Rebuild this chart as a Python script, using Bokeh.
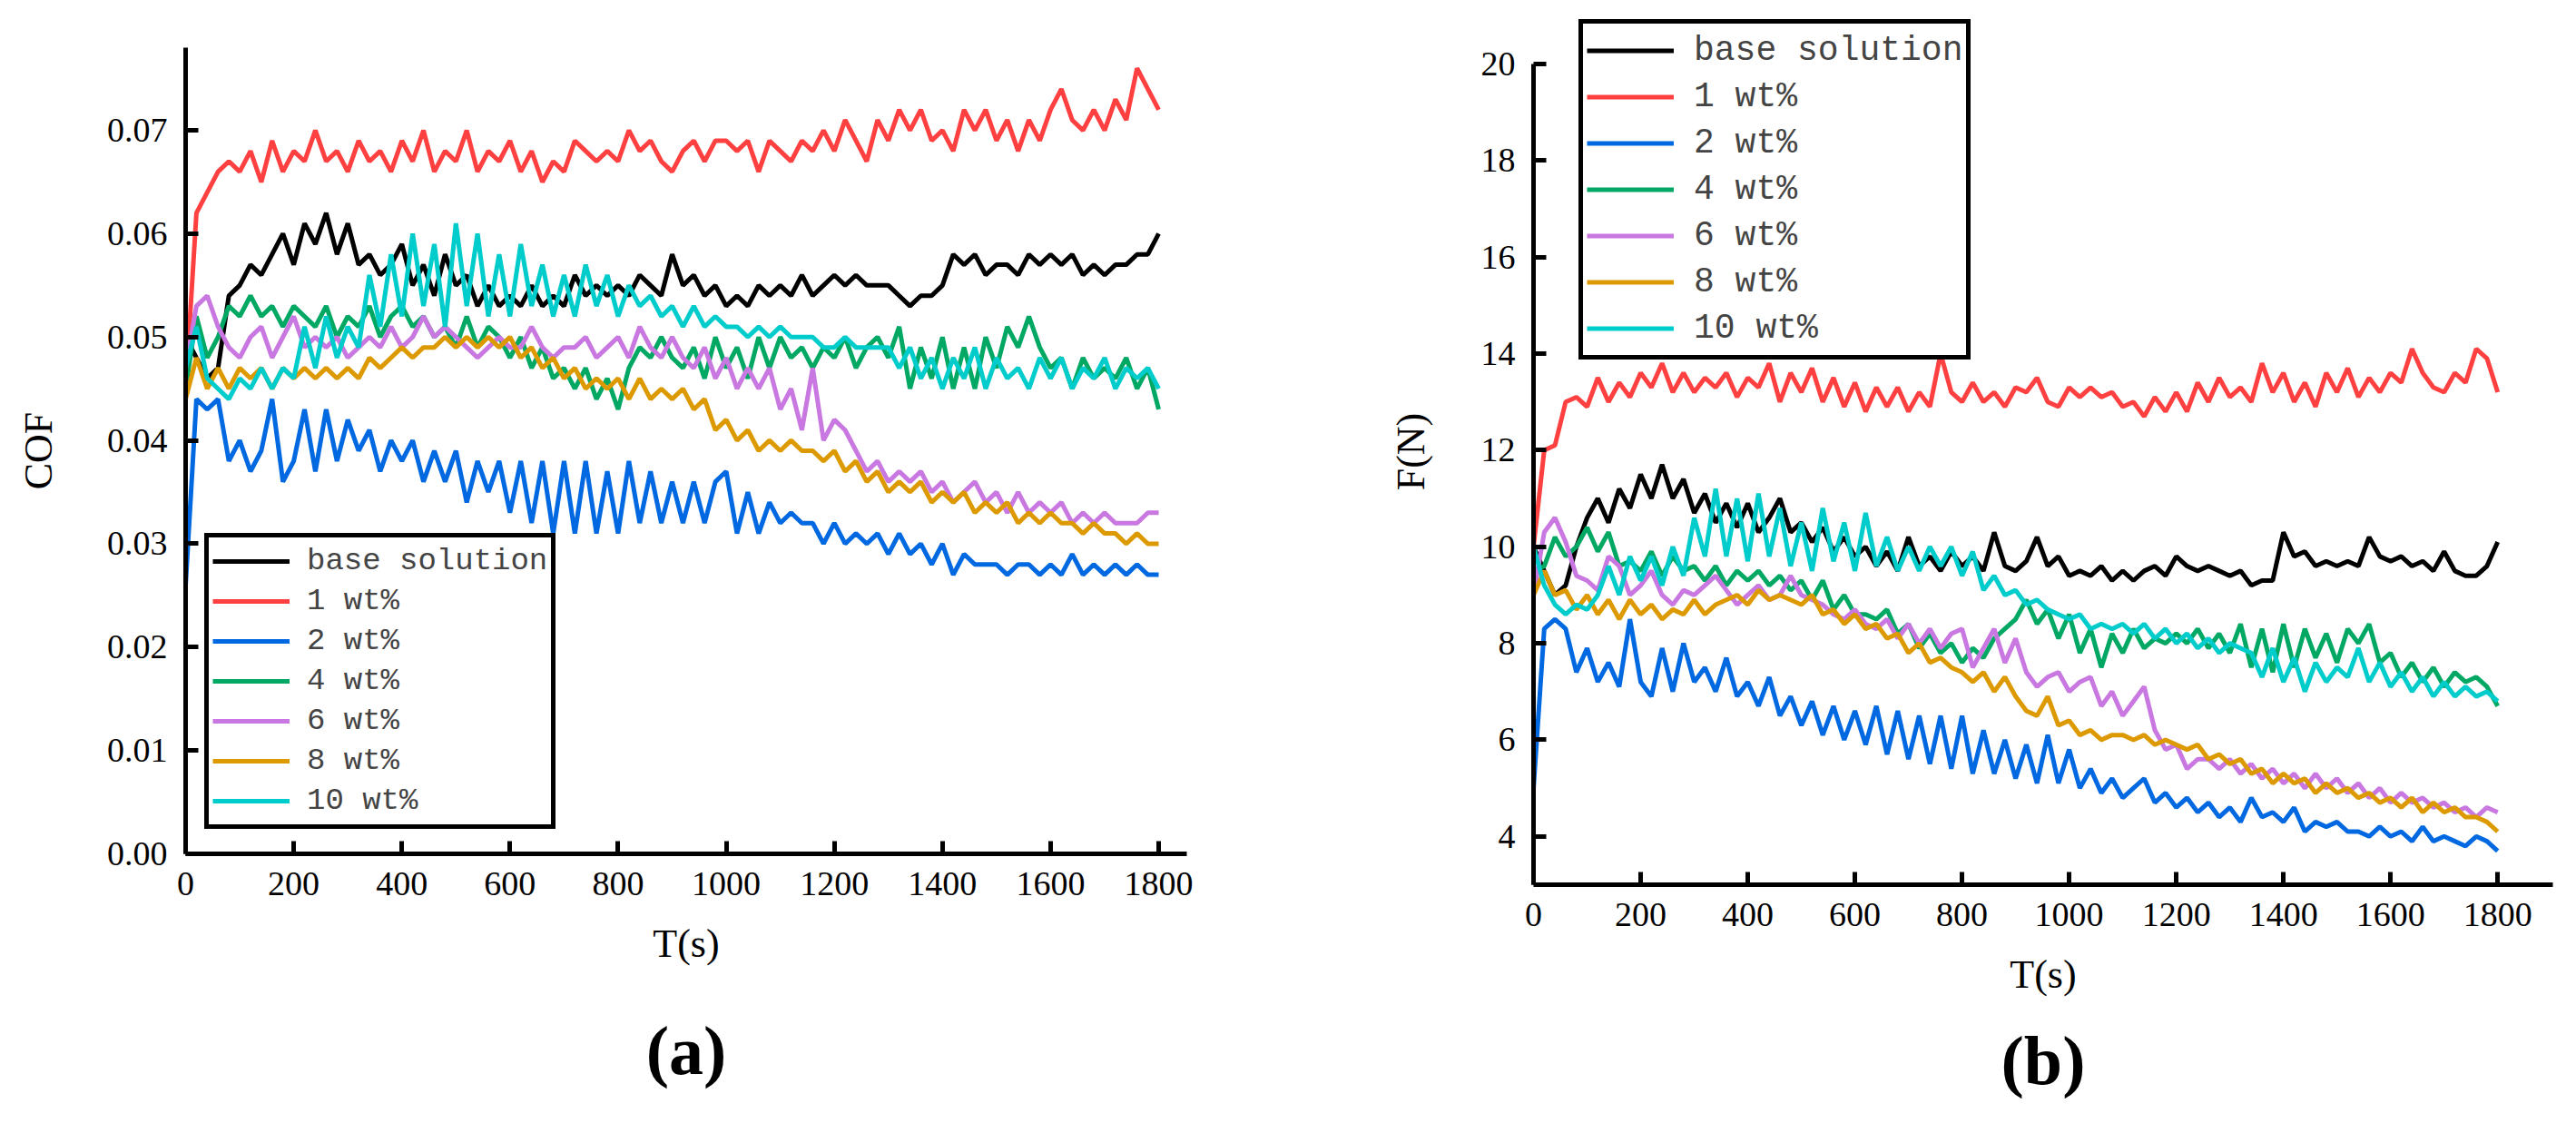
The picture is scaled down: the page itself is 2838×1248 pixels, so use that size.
from bokeh.plotting import figure
from bokeh.layouts import row, column
from bokeh.models import Range1d, FixedTicker, Title, PrintfTickFormatter
from bokeh.embed import file_html
from bokeh.resources import INLINE

# sampling times (s)
time_s = list(range(0, 1801, 20))

series_names = ["base solution", "1 wt%", "2 wt%", "4 wt%", "6 wt%", "8 wt%", "10 wt%"]
series_colors = ["#000000", "#ff4040", "#0068e0", "#00a864", "#c878e0", "#dc9a00", "#00cccc"]

# ---- panel (a): coefficient of friction ----
cof_base = [0.050, 0.048, 0.046, 0.047, 0.054, 0.055, 0.057, 0.056, 0.058, 0.060,
            0.057, 0.061, 0.059, 0.062, 0.058, 0.061, 0.057, 0.058, 0.056, 0.057,
            0.059, 0.055, 0.057, 0.054, 0.058, 0.055, 0.056, 0.053, 0.055, 0.053,
            0.054, 0.053, 0.055, 0.053, 0.054, 0.053, 0.056, 0.054, 0.055, 0.054,
            0.055, 0.054, 0.056, 0.055, 0.054, 0.058, 0.055, 0.056, 0.054, 0.055,
            0.053, 0.054, 0.053, 0.055, 0.054, 0.055, 0.054, 0.056, 0.054, 0.055,
            0.056, 0.055, 0.056, 0.055, 0.055, 0.055, 0.054, 0.053, 0.054, 0.054,
            0.055, 0.058, 0.057, 0.058, 0.056, 0.057, 0.057, 0.056, 0.058, 0.057,
            0.058, 0.057, 0.058, 0.056, 0.057, 0.056, 0.057, 0.057, 0.058, 0.058,
            0.060]
cof_1wt = [0.045, 0.062, 0.064, 0.066, 0.067, 0.066, 0.068, 0.065, 0.069, 0.066,
           0.068, 0.067, 0.070, 0.067, 0.068, 0.066, 0.069, 0.067, 0.068, 0.066,
           0.069, 0.067, 0.070, 0.066, 0.068, 0.067, 0.070, 0.066, 0.068, 0.067,
           0.069, 0.066, 0.068, 0.065, 0.067, 0.066, 0.069, 0.068, 0.067, 0.068,
           0.067, 0.070, 0.068, 0.069, 0.067, 0.066, 0.068, 0.069, 0.067, 0.069,
           0.069, 0.068, 0.069, 0.066, 0.069, 0.068, 0.067, 0.069, 0.068, 0.070,
           0.068, 0.071, 0.069, 0.067, 0.071, 0.069, 0.072, 0.070, 0.072, 0.069,
           0.070, 0.068, 0.072, 0.070, 0.072, 0.069, 0.071, 0.068, 0.071, 0.069,
           0.072, 0.074, 0.071, 0.070, 0.072, 0.070, 0.073, 0.071, 0.076, 0.074,
           0.072]
cof_2wt = [0.026, 0.044, 0.043, 0.044, 0.038, 0.040, 0.037, 0.039, 0.044, 0.036,
           0.038, 0.043, 0.037, 0.043, 0.038, 0.042, 0.039, 0.041, 0.037, 0.040,
           0.038, 0.040, 0.036, 0.039, 0.036, 0.039, 0.034, 0.038, 0.035, 0.038,
           0.033, 0.038, 0.032, 0.038, 0.031, 0.038, 0.031, 0.038, 0.031, 0.037,
           0.031, 0.038, 0.032, 0.037, 0.032, 0.036, 0.032, 0.036, 0.032, 0.036,
           0.037, 0.031, 0.035, 0.031, 0.034, 0.032, 0.033, 0.032, 0.032, 0.030,
           0.032, 0.030, 0.031, 0.030, 0.031, 0.029, 0.031, 0.029, 0.030, 0.028,
           0.030, 0.027, 0.029, 0.028, 0.028, 0.028, 0.027, 0.028, 0.028, 0.027,
           0.028, 0.027, 0.029, 0.027, 0.028, 0.027, 0.028, 0.027, 0.028, 0.027,
           0.027]
cof_4wt = [0.045, 0.052, 0.048, 0.050, 0.053, 0.052, 0.054, 0.052, 0.053, 0.051,
           0.053, 0.052, 0.051, 0.053, 0.050, 0.052, 0.051, 0.053, 0.050, 0.052,
           0.053, 0.051, 0.052, 0.050, 0.051, 0.049, 0.052, 0.049, 0.051, 0.050,
           0.048, 0.050, 0.047, 0.049, 0.046, 0.047, 0.045, 0.047, 0.044, 0.046,
           0.043, 0.047, 0.049, 0.048, 0.050, 0.048, 0.047, 0.049, 0.046, 0.050,
           0.047, 0.049, 0.046, 0.050, 0.047, 0.050, 0.048, 0.049, 0.047, 0.049,
           0.048, 0.050, 0.047, 0.049, 0.050, 0.048, 0.051, 0.045, 0.049, 0.046,
           0.050, 0.045, 0.049, 0.045, 0.050, 0.047, 0.051, 0.049, 0.052, 0.049,
           0.047, 0.048, 0.045, 0.048, 0.046, 0.047, 0.046, 0.048, 0.045, 0.047,
           0.043]
cof_6wt = [0.047, 0.053, 0.054, 0.051, 0.049, 0.048, 0.050, 0.051, 0.048, 0.050,
           0.052, 0.049, 0.050, 0.049, 0.050, 0.048, 0.049, 0.050, 0.049, 0.051,
           0.049, 0.050, 0.052, 0.050, 0.051, 0.050, 0.049, 0.048, 0.049, 0.050,
           0.049, 0.049, 0.051, 0.049, 0.048, 0.049, 0.049, 0.050, 0.048, 0.049,
           0.050, 0.048, 0.051, 0.049, 0.048, 0.050, 0.048, 0.047, 0.049, 0.046,
           0.048, 0.045, 0.047, 0.045, 0.047, 0.043, 0.045, 0.041, 0.047, 0.040,
           0.042, 0.041, 0.039, 0.037, 0.038, 0.036, 0.037, 0.036, 0.037, 0.035,
           0.036, 0.034, 0.035, 0.036, 0.034, 0.035, 0.033, 0.035, 0.033, 0.034,
           0.033, 0.034, 0.032, 0.033, 0.032, 0.033, 0.032, 0.032, 0.032, 0.033,
           0.033]
cof_8wt = [0.044, 0.048, 0.045, 0.047, 0.045, 0.047, 0.046, 0.047, 0.045, 0.047,
           0.046, 0.047, 0.046, 0.047, 0.046, 0.047, 0.046, 0.048, 0.047, 0.048,
           0.049, 0.048, 0.049, 0.049, 0.050, 0.049, 0.050, 0.049, 0.050, 0.049,
           0.050, 0.048, 0.049, 0.047, 0.048, 0.046, 0.047, 0.045, 0.046, 0.045,
           0.046, 0.044, 0.046, 0.044, 0.045, 0.044, 0.045, 0.043, 0.044, 0.041,
           0.042, 0.040, 0.041, 0.039, 0.040, 0.039, 0.040, 0.039, 0.039, 0.038,
           0.039, 0.037, 0.038, 0.036, 0.037, 0.035, 0.036, 0.035, 0.036, 0.034,
           0.035, 0.034, 0.035, 0.033, 0.034, 0.033, 0.034, 0.032, 0.033, 0.032,
           0.033, 0.032, 0.032, 0.031, 0.032, 0.031, 0.031, 0.030, 0.031, 0.030,
           0.030]
cof_10wt = [0.047, 0.051, 0.046, 0.045, 0.044, 0.046, 0.045, 0.047, 0.045, 0.047,
            0.046, 0.051, 0.047, 0.052, 0.048, 0.051, 0.049, 0.056, 0.051, 0.058,
            0.052, 0.060, 0.053, 0.059, 0.051, 0.061, 0.053, 0.060, 0.052, 0.058,
            0.052, 0.059, 0.053, 0.057, 0.052, 0.056, 0.052, 0.057, 0.053, 0.056,
            0.052, 0.055, 0.053, 0.054, 0.052, 0.053, 0.051, 0.053, 0.051, 0.052,
            0.051, 0.051, 0.050, 0.051, 0.050, 0.051, 0.050, 0.050, 0.050, 0.049,
            0.049, 0.050, 0.049, 0.049, 0.049, 0.049, 0.047, 0.049, 0.046, 0.048,
            0.045, 0.048, 0.046, 0.049, 0.045, 0.048, 0.046, 0.047, 0.045, 0.048,
            0.046, 0.048, 0.045, 0.047, 0.046, 0.048, 0.045, 0.047, 0.046, 0.047,
            0.045]

# ---- panel (b): friction force (N) ----
f_base = [10.0, 9.5, 9.0, 9.2, 10.0, 10.6, 11.0, 10.5, 11.2, 10.8,
          11.5, 11.0, 11.7, 11.0, 11.4, 10.7, 11.1, 10.5, 10.9, 10.4,
          10.9, 10.3, 10.6, 11.0, 10.3, 10.5, 10.1, 10.4, 9.9, 10.2,
          9.8, 10.0, 9.6, 9.9, 9.5, 10.2, 9.6, 9.8, 9.5, 9.9,
          9.6, 9.8, 9.5, 10.3, 9.6, 9.5, 9.7, 10.2, 9.6, 9.8,
          9.4, 9.5, 9.4, 9.6, 9.3, 9.5, 9.3, 9.5, 9.6, 9.4,
          9.8, 9.6, 9.5, 9.6, 9.5, 9.4, 9.5, 9.2, 9.3, 9.3,
          10.3, 9.8, 9.9, 9.6, 9.7, 9.6, 9.7, 9.6, 10.2, 9.8,
          9.7, 9.8, 9.6, 9.7, 9.5, 9.9, 9.5, 9.4, 9.4, 9.6,
          10.1]
f_1wt = [10.0, 12.0, 12.1, 13.0, 13.1, 12.9, 13.5, 13.0, 13.4, 13.1,
         13.6, 13.3, 13.8, 13.2, 13.6, 13.2, 13.5, 13.3, 13.6, 13.1,
         13.5, 13.3, 13.8, 13.0, 13.6, 13.2, 13.7, 13.0, 13.5, 12.9,
         13.4, 12.8, 13.3, 12.9, 13.3, 12.8, 13.2, 12.9, 14.0, 13.2,
         13.0, 13.4, 13.0, 13.2, 12.9, 13.3, 13.2, 13.5, 13.0, 12.9,
         13.3, 13.1, 13.3, 13.1, 13.2, 12.9, 13.0, 12.7, 13.1, 12.8,
         13.2, 12.8, 13.4, 13.0, 13.5, 13.1, 13.3, 13.0, 13.8, 13.2,
         13.6, 13.0, 13.4, 12.9, 13.6, 13.2, 13.7, 13.1, 13.5, 13.2,
         13.6, 13.4, 14.1, 13.6, 13.3, 13.2, 13.6, 13.4, 14.1, 13.9,
         13.2]
f_2wt = [5.0, 8.3, 8.5, 8.3, 7.4, 7.9, 7.2, 7.6, 7.1, 8.5,
         7.2, 6.9, 7.9, 7.0, 8.0, 7.2, 7.5, 7.0, 7.7, 6.9,
         7.2, 6.7, 7.3, 6.5, 6.9, 6.3, 6.8, 6.1, 6.7, 6.0,
         6.6, 5.9, 6.7, 5.7, 6.6, 5.6, 6.5, 5.5, 6.5, 5.4,
         6.5, 5.3, 6.2, 5.3, 6.0, 5.2, 5.9, 5.1, 6.1, 5.1,
         5.8, 5.0, 5.4, 4.9, 5.2, 4.8, 5.0, 5.2, 4.7, 4.9,
         4.6, 4.8, 4.5, 4.7, 4.4, 4.6, 4.3, 4.8, 4.4, 4.5,
         4.3, 4.6, 4.1, 4.3, 4.2, 4.3, 4.1, 4.1, 4.0, 4.2,
         4.0, 4.1, 3.9, 4.2, 3.9, 4.0, 3.9, 3.8, 4.0, 3.9,
         3.7]
f_4wt = [9.5, 9.6, 10.2, 9.8, 10.0, 10.4, 9.9, 10.3, 9.6, 9.7,
         9.5, 9.9, 9.4, 9.8, 9.5, 9.6, 9.3, 9.6, 9.2, 9.5,
         9.3, 9.5, 9.2, 9.4, 9.1, 9.3, 8.9, 9.3, 8.7, 9.0,
         8.6, 8.6, 8.5, 8.7, 8.2, 8.4, 7.9, 8.2, 7.8, 8.0,
         7.6, 7.9, 7.7, 8.1, 8.3, 8.5, 8.9, 8.4, 8.7, 8.1,
         8.6, 7.8, 8.3, 7.5, 8.2, 7.8, 8.3, 7.9, 8.1, 8.0,
         8.2, 8.0, 8.3, 7.9, 8.2, 7.8, 8.4, 7.5, 8.3, 7.4,
         8.4, 7.5, 8.3, 7.7, 8.2, 7.6, 8.3, 8.0, 8.4, 7.6,
         7.8, 7.3, 7.6, 7.2, 7.5, 7.1, 7.4, 7.2, 7.3, 7.1,
         6.7]
f_6wt = [9.0, 10.3, 10.6, 10.1, 9.4, 9.3, 9.1, 9.8, 9.6, 9.0,
         9.2, 9.5, 9.0, 8.8, 9.1, 9.0, 9.2, 9.4, 9.1, 8.8,
         9.0, 9.2, 8.9, 9.0, 9.4, 9.0, 8.9, 8.8, 8.6, 8.5,
         8.7, 8.4, 8.3, 8.5, 8.1, 8.4, 8.0, 8.3, 7.9, 8.2,
         8.3, 7.5, 7.9, 8.3, 7.6, 8.1, 7.4, 7.1, 7.3, 7.4,
         7.0, 7.2, 7.3, 6.7, 7.0, 6.5, 6.8, 7.1, 6.2, 5.8,
         5.9, 5.4, 5.6, 5.6, 5.4, 5.6, 5.3, 5.5, 5.2, 5.4,
         5.1, 5.3, 5.0, 5.3, 5.0, 5.2, 4.9, 5.1, 4.8, 5.0,
         4.7, 4.9, 4.7, 4.8, 4.6, 4.7, 4.5, 4.6, 4.4, 4.6,
         4.5]
f_8wt = [9.0, 9.5, 9.0, 9.1, 8.7, 9.0, 8.6, 8.9, 8.5, 8.9,
         8.6, 8.8, 8.5, 8.7, 8.6, 8.9, 8.6, 8.8, 8.9, 9.0,
         8.8, 9.1, 8.9, 9.0, 8.9, 8.8, 9.0, 8.6, 8.7, 8.4,
         8.6, 8.3, 8.4, 8.1, 8.2, 7.8, 8.0, 7.6, 7.7, 7.5,
         7.4, 7.2, 7.4, 7.0, 7.3, 6.9, 6.6, 6.5, 6.9, 6.3,
         6.4, 6.1, 6.2, 6.0, 6.1, 6.1, 6.0, 6.1, 5.9, 6.0,
         5.9, 5.8, 5.9, 5.6, 5.7, 5.5, 5.6, 5.3, 5.4, 5.1,
         5.3, 5.1, 5.2, 4.9, 5.1, 4.9, 5.0, 4.8, 4.9, 4.7,
         4.8, 4.6, 4.8, 4.5, 4.7, 4.5, 4.6, 4.4, 4.4, 4.3,
         4.1]
f_10wt = [10.0, 9.2, 8.8, 8.6, 8.8, 8.7, 9.0, 9.6, 9.0, 9.8,
          9.3, 9.8, 9.2, 10.0, 9.4, 10.6, 9.8, 11.2, 9.8, 11.0,
          9.7, 11.1, 9.8, 10.8, 9.6, 10.5, 9.5, 10.8, 9.7, 10.5,
          9.5, 10.7, 9.6, 10.2, 9.5, 10.0, 9.5, 10.0, 9.6, 10.0,
          9.4, 9.9, 9.1, 9.4, 9.0, 9.1, 8.8, 8.9, 8.7, 8.6,
          8.5, 8.6, 8.3, 8.4, 8.3, 8.4, 8.2, 8.4, 8.1, 8.3,
          8.0, 8.2, 7.9, 8.1, 7.8, 8.0, 7.9, 7.8, 7.3, 7.9,
          7.2, 7.7, 7.0, 7.6, 7.2, 7.5, 7.3, 7.9, 7.2, 7.6,
          7.1, 7.4, 7.0, 7.3, 6.9, 7.2, 6.9, 7.1, 6.9, 7.0,
          6.8]

cof_series = [cof_base, cof_1wt, cof_2wt, cof_4wt, cof_6wt, cof_8wt, cof_10wt]
force_series = [f_base, f_1wt, f_2wt, f_4wt, f_6wt, f_8wt, f_10wt]

x_ticks = [0, 200, 400, 600, 800, 1000, 1200, 1400, 1600, 1800]
cof_ticks = [0.0, 0.01, 0.02, 0.03, 0.04, 0.05, 0.06, 0.07]
force_ticks = [4, 6, 8, 10, 12, 14, 16, 18, 20]

SERIF = "Liberation Serif"


def make_panel(series, x_max, y_min, y_max, y_bounds, y_ticks, y_label, borders, letter,
               letter_standoff, legend_loc, legend_font, glyph_w, row_h, legend_standoff,
               ylabel_standoff):
    left, right, top, bottom = borders
    p = figure(width=1419, height=1248, output_backend="svg", toolbar_location=None,
               x_range=Range1d(0, x_max), y_range=Range1d(y_min, y_max),
               min_border_left=left, min_border_right=right,
               min_border_top=top, min_border_bottom=bottom)
    p.outline_line_color = None
    p.grid.visible = False
    p.background_fill_color = "white"
    p.border_fill_color = "white"

    for vals, name, col in zip(series, series_names, series_colors):
        p.line(time_s, vals, line_color=col, line_width=5, legend_label=name)

    for ax in (p.xaxis[0], p.yaxis[0]):
        ax.axis_line_width = 5
        ax.major_tick_line_width = 5
        ax.major_tick_in = 14
        ax.major_tick_out = 0
        ax.minor_tick_line_color = None
        ax.major_label_text_font = SERIF
        ax.major_label_text_font_size = "38px"
        ax.major_label_text_color = "black"
        ax.axis_label_text_font = SERIF
        ax.axis_label_text_font_size = "44px"
        ax.axis_label_text_font_style = "normal"
        ax.axis_label_text_color = "black"
        ax.major_label_standoff = 20

    p.xaxis[0].ticker = FixedTicker(ticks=x_ticks)
    p.yaxis[0].ticker = FixedTicker(ticks=y_ticks)
    p.yaxis[0].bounds = y_bounds
    p.xaxis[0].axis_label = "T(s)"
    p.xaxis[0].axis_label_standoff = 26
    p.yaxis[0].axis_label = y_label
    p.yaxis[0].axis_label_standoff = ylabel_standoff

    lg = p.legend[0]
    lg.location = legend_loc
    lg.border_line_color = "black"
    lg.border_line_alpha = 1.0
    lg.border_line_width = 5
    lg.background_fill_alpha = 1.0
    lg.label_text_font = "Liberation Mono"
    lg.label_text_font_size = legend_font
    lg.glyph_width = glyph_w
    lg.glyph_height = row_h
    lg.label_height = row_h
    lg.label_standoff = legend_standoff
    lg.padding = 4
    lg.spacing = 0
    lg.margin = 0

    p.add_layout(Title(text=letter, align="center", text_font=SERIF, text_font_size="76px",
                       text_font_style="bold", text_color="black",
                       standoff=letter_standoff), "below")
    return p


p_a = make_panel(cof_series, 1852, 0.0, 0.078, (0.0, 0.078), cof_ticks, "COF",
                 (204, 112, 52, 308), "(a)", 92, (21, 27), "34px", 85, 44, 19, 48)
p_a.yaxis[0].formatter = PrintfTickFormatter(format="%.2f")

p_b = make_panel(force_series, 1903, 3.0, 20.94, (3.0, 20.0), force_ticks, "F(N)",
                 (270, 26, 20, 274), "(b)", 46, (50, 578), "38px", 96, 51, 22, 50)

# each plot in its own column so their frames are laid out independently
layout = row(column(p_a), column(p_b))
open("out.html", "w").write(file_html(layout, INLINE))
